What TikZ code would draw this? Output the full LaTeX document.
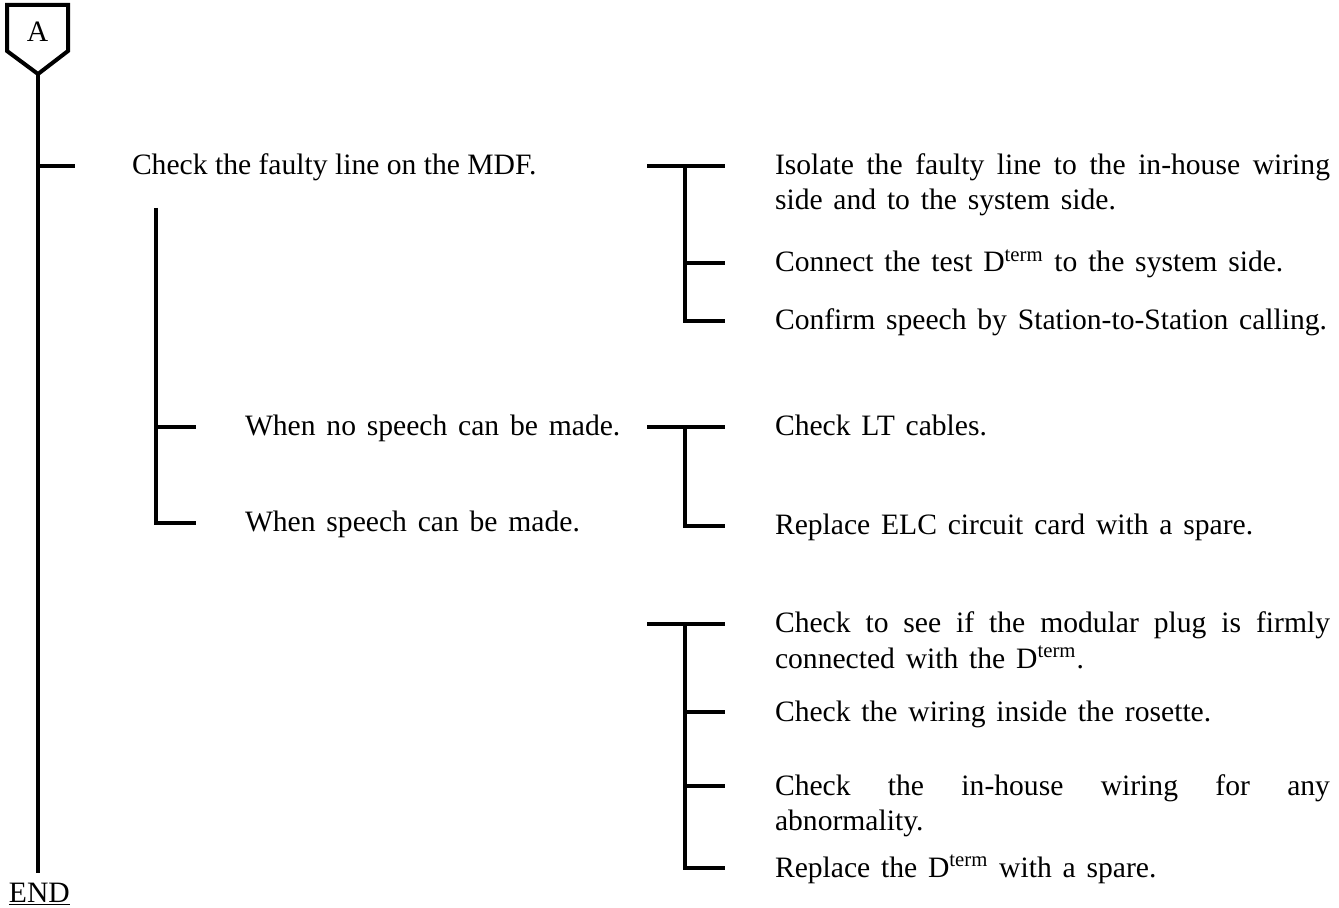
\documentclass[tikz,border=0pt]{standalone}
\usepackage{fontspec}
\setmainfont{Liberation Serif}
\newcommand{\fsbase}{\fontsize{14.8}{17.5}\selectfont}
\newcommand{\fs}{\fsbase\spaceskip=5.4pt plus 4pt minus 1.5pt\relax}
\newcommand{\Dt}{D\textsuperscript{term}}
\begin{document}
\begin{tikzpicture}[x=0.5pt,y=-0.5pt,line width=2pt,
  txt/.style={anchor=base west,inner sep=0pt,font=\fs},
  ntxt/.style={anchor=base west,inner sep=0pt,font=\fsbase},
  ptxt/.style={anchor=base west,inner sep=0pt,font=\fs}]
\useasboundingbox (0,0) rectangle (1339,908);
% connector A
\draw (7,5) -- (68,5) -- (68,51) -- (38,74) coordinate (atip) -- (7,51) -- cycle;
\node[anchor=center,inner sep=0pt,font=\fs] (A) at (37.5,32) {A};
\coordinate (mainend) at (38,873);
\draw (atip) -- (mainend);
\node[txt] (endn) at (7,902) {\underline{END}};
% level 1
\coordinate (m1) at (38,166);
\coordinate (m1e) at (75,166);
\draw (m1) -- (m1e);
\node[ntxt] (chk) at (130,175) {Check the faulty line on the MDF.};
% level 2 vertical
\coordinate (s0) at (156,208);
\coordinate (s1) at (156,427);
\coordinate (s2) at (156,523);
\coordinate (s1e) at (196,427);
\coordinate (s2e) at (196,523);
\draw (s0) -- (s2) -- (s2e);
\draw (s1) -- (s1e);
\node[txt] (nosp) at (243,436) {When no speech can be made.};
\node[txt] (sp) at (243,532) {When speech can be made.};
% bracket group 1
\coordinate (g1a) at (647,166);
\coordinate (g1b) at (685,166);
\coordinate (g1c) at (685,321);
\draw (g1a) -- (725,166);
\draw (g1b) -- (g1c) -- (725,321);
\draw (685,263) coordinate (g1m) -- (725,263);
\node[ptxt] (r1) at (773,175) {\parbox[t]{277.5pt}{\fs Isolate the faulty line to the in-house wiring\linebreak side and to the system side.}};
\node[txt] (r2) at (773,272) {Connect the test \Dt{} to the system side.};
\node[txt] (r3) at (773,330) {Confirm speech by Station-to-Station calling.};
% bracket group 2
\coordinate (g2a) at (647,427);
\coordinate (g2b) at (685,427);
\coordinate (g2c) at (685,526);
\draw (g2a) -- (725,427);
\draw (g2b) -- (g2c) -- (725,526);
\node[txt] (r4) at (773,436) {Check LT cables.};
\node[txt] (r5) at (773,535) {Replace ELC circuit card with a spare.};
% bracket group 3
\coordinate (g3a) at (647,624);
\coordinate (g3b) at (685,624);
\coordinate (g3c) at (685,868);
\draw (g3a) -- (725,624);
\draw (g3b) -- (g3c) -- (725,868);
\draw (685,712) coordinate (g3m1) -- (725,712);
\draw (685,786) coordinate (g3m2) -- (725,786);
\node[ptxt] (r6) at (773,633) {\parbox[t]{277.5pt}{\fs Check to see if the modular plug is firmly\linebreak connected with the \Dt.}};
\node[txt] (r7) at (773,721) {Check the wiring inside the rosette.};
\node[ptxt] (r8) at (773,795) {\parbox[t]{277.5pt}{\fs Check the in-house wiring for any\linebreak abnormality.}};
\node[txt] (r9) at (773,877) {Replace the \Dt{} with a spare.};
\end{tikzpicture}
\end{document}
